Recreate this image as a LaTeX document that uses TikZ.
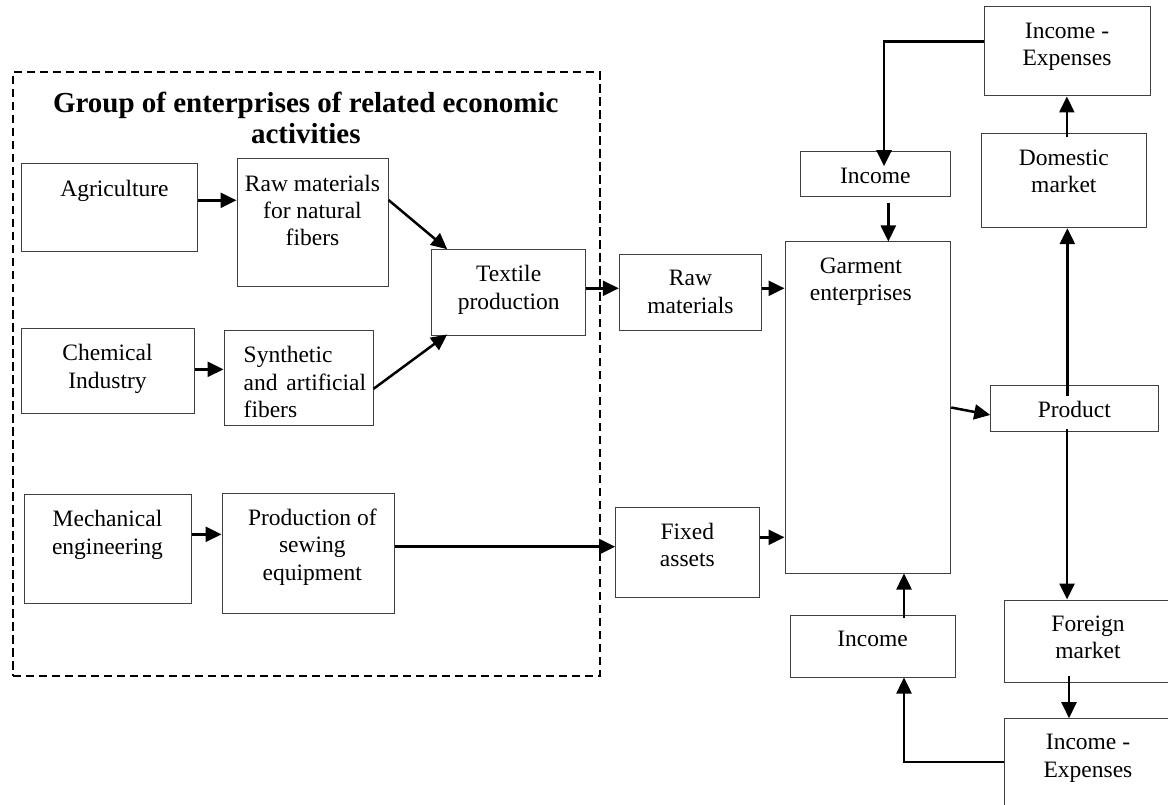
\documentclass[tikz,border=0pt]{standalone}
\usepackage{fontspec}
\setmainfont{Liberation Serif}
\usetikzlibrary{arrows.meta}

\begin{document}
\begin{tikzpicture}[x=1pt, y=-1pt,
    font=\fontsize{23.5}{27.3}\selectfont,
    box/.style={draw=black!75, line width=1pt, rectangle, inner sep=0pt},
    lbl/.style={anchor=north, yshift=-16pt, align=center, inner sep=0pt},
    arr/.style={-{Triangle[length=16pt, width=15pt]}, line width=2.5pt},
    group/.style={draw, dash pattern=on 8.5pt off 4.5pt, line width=2pt, inner sep=0pt}]
    \useasboundingbox (0,0) rectangle (1168,805);

    % group of related activities
    \node[group, minimum width=587, minimum height=603.5] (grp) at (306,374.25) {};
    \node[anchor=north, inner sep=0pt, align=center, font=\bfseries\fontsize{29}{31.6}\selectfont] (title) at (305.8,91.7) {Group of enterprises of related economic\\activities};

    \node[box, minimum width=176, minimum height=88, label={[lbl, xshift=5.5pt]north:Agriculture}] (agri) at (109,208) {};
    \node[box, minimum width=151, minimum height=127.5, label={[lbl]north:Raw materials\\for natural\\fibers}] (rawnat) at (312.5,222.75) {};
    \node[box, minimum width=154, minimum height=86, label={[lbl]north:Textile\\production}] (textile) at (508.7,292.7) {};
    \node[box, minimum width=173, minimum height=84.3, label={[lbl]north:Chemical\\Industry}] (chem) at (107.5,370.85) {};
    \node[box, minimum width=149, minimum height=94.3, label={[lbl, anchor=north west, align=left, xshift=20pt]north west:Synthetic\\and\hspace{3pt} artificial\\fibers}] (synth) at (298.5,377.85) {};
    \node[box, minimum width=167, minimum height=108.3, label={[lbl]north:Mechanical\\engineering}] (mech) at (107.5,548.85) {};
    \node[box, minimum width=172.6, minimum height=120, label={[lbl, xshift=4pt]north:Production of\\sewing\\equipment}] (sew) at (308.3,553.3) {};

    % garment side
    \node[box, minimum width=142.4, minimum height=76, label={[lbl]north:Raw\\materials}] (rawmat) at (690.5,292.7) {};
    \node[box, minimum width=143.3, minimum height=90, label={[lbl]north:Fixed\\assets}] (fixed) at (687.35,552) {};
    \node[box, minimum width=165.7, minimum height=331, label={[lbl, xshift=-7pt]north:Garment\\enterprises}] (garment) at (867.85,407.5) {};
    \node[box, minimum width=150.7, minimum height=45, label={[lbl]north:Income}] (inctop) at (875.35,174.5) {};
    \node[box, minimum width=166, minimum height=89, label={[lbl]north:Income -\\Expenses}] (ietop) at (1067,51.5) {};
    \node[box, minimum width=165.7, minimum height=93.7, label={[lbl]north:Domestic\\market}] (domestic) at (1063.85,180.85) {};
    \node[box, minimum width=167.3, minimum height=45.3, label={[lbl]north:Product}] (product) at (1074.35,408.35) {};
    \node[box, minimum width=165, minimum height=62, label={[lbl]north:Income}] (incbot) at (872.5,646) {};
    \node[box, minimum width=168, minimum height=82, label={[lbl]north:Foreign\\market}] (foreign) at (1088,641) {};
    \node[box, minimum width=168, minimum height=89.3, label={[lbl]north:Income -\\Expenses}] (iebot) at (1088,763.35) {};

    % flows inside the group
    \draw[arr] ([yshift=7.7pt]agri.east) -- ([yshift=7.7pt]agri.east -| rawnat.west);
    \draw[arr] ([yshift=22.75pt]rawnat.east) -- ([xshift=16pt]textile.north west);
    \draw[arr] ([yshift=1.5pt]chem.east) -- ([yshift=1.5pt]chem.east -| synth.west);
    \draw[arr] ([yshift=-11pt]synth.east) -- ([xshift=16pt, yshift=1.7pt]textile.south west);
    \draw[arr] ([yshift=14.5pt]mech.east) -- ([yshift=14.5pt]mech.east -| sew.west);
    \draw[arr] ([yshift=6.6pt]sew.east) -- ([yshift=6.6pt]sew.east -| fixed.west);
    \draw[arr] ([yshift=4.4pt]textile.east) -- ([yshift=4.4pt]textile.east -| rawmat.west);

    % flows of the garment enterprises
    \draw[arr] ([yshift=4.4pt]rawmat.east) -- ([yshift=4.4pt]rawmat.east -| garment.west);
    \draw[arr] ([yshift=14.7pt]fixed.east) -- ([yshift=14.7pt]fixed.east -| garment.west);
    \draw[arr] (garment.east) -- ([yshift=-6.6pt]product.west);

    \coordinate (pd) at ([xshift=-7pt, yshift=-11pt]product.north);
    \draw[arr] (pd) -- (pd |- domestic.south);
    \coordinate (dm) at ([xshift=3pt, yshift=-3.7pt]domestic.north);
    \draw[arr] (dm) -- (dm |- ietop.south);
    \draw[arr] ([yshift=9.8pt]ietop.west) -| ([xshift=8.7pt, yshift=-14.7pt]inctop.north);
    \coordinate (it) at ([xshift=13pt, yshift=-6pt]inctop.south);
    \draw[arr] (it) -- (it |- garment.north);

    \coordinate (pf) at ([xshift=-7.3pt, yshift=3pt]product.south);
    \draw[arr] (pf) -- (pf |- foreign.north);
    \coordinate (fm) at ([xshift=-19pt, yshift=6.3pt]foreign.south);
    \draw[arr] (fm) -- (fm |- iebot.north);
    \draw[arr] ([yshift=1.3pt]iebot.west) -| ([xshift=31.5pt]incbot.south);
    \coordinate (ib) at ([xshift=31.5pt, yshift=-3pt]incbot.north);
    \draw[arr] (ib) -- (ib |- garment.south);
\end{tikzpicture}
\end{document}
